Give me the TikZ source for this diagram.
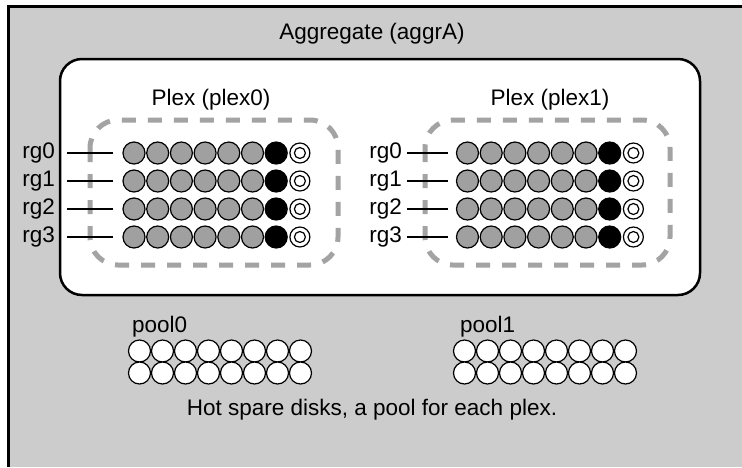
\documentclass[tikz,border=0pt]{standalone}
\usepackage{fontspec}
\setmainfont{Liberation Sans}
\usetikzlibrary{calc, positioning}
\definecolor{aggrgray}{HTML}{CCCCCC}
\definecolor{diskgray}{HTML}{A0A0A0}
\definecolor{dashgray}{HTML}{A3A3A3}
\tikzstyle{txt} = [inner sep=0pt, outer sep=0pt]
\tikzstyle{disk} = [circle, draw=black, line width=1.2pt, minimum size=22pt, inner sep=0pt, outer sep=0pt]
\tikzstyle{datadisk} = [disk, fill=diskgray]
\tikzstyle{paritydisk} = [disk, fill=black]
\tikzstyle{sparedisk} = [disk, fill=white]
\tikzstyle{dparitydisk} = [disk, fill=white, minimum size=20pt, path picture={
	\draw[line width=1.2pt] (path picture bounding box.center) circle (5.5pt);
	\fill (path picture bounding box.center) circle (2.8pt);}]
\tikzstyle{aggrbox} = [draw=black, fill=white, line width=2.5pt, rounded corners=22pt]
\tikzstyle{plexbox} = [draw=dashgray, line width=5pt, dash pattern=on 14pt off 12pt, rounded corners=28pt]
\tikzstyle{rgline} = [line width=1.3pt]

\begin{document}
\begin{tikzpicture}[x=1pt, y=-1pt, font=\fontsize{22.5}{26}\selectfont]
		\useasboundingbox (0,0) rectangle (742,467);
		\fill[aggrgray] (8,6) rectangle (742,467);
		\draw[line width=3pt] (8,467) -- (8,6) -- (742,6);
		\node (Aggregate) [txt] at (372,34) {Aggregate (aggrA)};
		\draw[aggrbox] (60,59) rectangle (700,295);
		\draw[plexbox] (90,120) rectangle (338,265);
		\draw[plexbox] (425,120) rectangle (670,265);
		\node (Plex0) [txt] at (211,100) {Plex (plex0)};
		\node (Plex1) [txt] at (550,100) {Plex (plex1)};
		
		% raid groups
		\foreach \r/\y in {0/153,1/181,2/209,3/237} {
			\foreach \p/\x in {L/134,R/467.5} {
				\foreach \d in {1,...,6}
					\node (\p\r-\d) [datadisk] at ({\x+(\d-1)*23.7},\y) {};
				\node (\p\r-7) [paritydisk] at ({\x+6*23.7},\y) {};
				\node (\p\r-8) [dparitydisk] at ({\x+7*23.7},\y) {};
			}
			\node (rgL\r) [txt, anchor=east] at (55,\y) {rg\r};
			\node (rgR\r) [txt, anchor=east] at (402,\y) {rg\r};
			\draw [rgline, shorten <=12pt, shorten >=10pt] (rgL\r) -- (L\r-1);
			\draw [rgline, shorten <=5pt, shorten >=9pt] (rgR\r) -- (R\r-1);
		}
		
		% spare pools
		\node (Pool0) [txt, anchor=west] at (132,327) {pool0};
		\node (Pool1) [txt, anchor=west] at (460,327) {pool1};
		\foreach \p/\x in {0/139.5,1/464.5}
			\foreach \row/\y in {1/351,2/373}
				\foreach \d in {1,...,8}
					\node (S\p\row-\d) [sparedisk] at ({\x+(\d-1)*23},\y) {};
		\node (Spares) [txt] at (372,410) {Hot spare disks, a pool for each plex.};
\end{tikzpicture}
\end{document}
